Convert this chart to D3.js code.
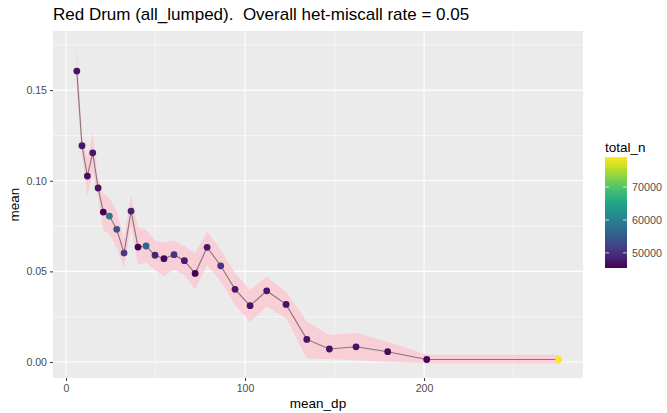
<!DOCTYPE html>
<html>
<head>
<meta charset="utf-8">
<script src="https://cdn.jsdelivr.net/npm/d3@7"></script>
<style>
  body { margin: 0; background: #fff; }
  svg { font-family: "Liberation Sans", Arial, Helvetica, sans-serif; }
</style>
</head>
<body>
<div id="chart"></div>
<script>
// values
var mean_dp = [6.0, 8.9, 11.9, 14.9, 17.9, 20.8, 24.2, 28.3, 32.4, 36.3, 40.2, 44.7, 49.7, 54.7,
               60.3, 66.1, 72.1, 78.8, 86.4, 94.4, 102.8, 112.1, 122.9, 134.5, 147.1, 162.0,
               179.7, 201.5, 275.2];
var mean = [0.1605, 0.1193, 0.1026, 0.1154, 0.0960, 0.0827, 0.0805, 0.0732, 0.0601, 0.0833,
            0.0634, 0.0640, 0.0589, 0.0570, 0.0592, 0.0559, 0.0489, 0.0633, 0.0531, 0.0401,
            0.0311, 0.0393, 0.0318, 0.0125, 0.0072, 0.0084, 0.0057, 0.0014, 0.0014];
var lo = [0.1490, 0.1145, 0.0915, 0.1045, 0.0910, 0.0725, 0.0705, 0.0630, 0.0520, 0.0750,
          0.0535, 0.0550, 0.0507, 0.0475, 0.0510, 0.0480, 0.0400, 0.0535, 0.0445, 0.0315,
          0.0222, 0.0305, 0.0243, 0.0020, 0.0017, 0.0010, 0.0002, -0.0008, -0.0008];
var hi = [0.1735, 0.1240, 0.1130, 0.1265, 0.1010, 0.0925, 0.0905, 0.0835, 0.0680, 0.0920,
          0.0745, 0.0730, 0.0670, 0.0660, 0.0670, 0.0640, 0.0600, 0.0720, 0.0620, 0.0490,
          0.0397, 0.0470, 0.0388, 0.0222, 0.0149, 0.0160, 0.0112, 0.0040, 0.0040];
var total_n = [47000, 47500, 46500, 47500, 47000, 45500, 59000, 54000, 51000, 48500,
               45500, 55500, 49000, 46000, 50500, 48000, 45600, 47500, 50500, 47500,
               47000, 47500, 47000, 47000, 47000, 47000, 46500, 46000, 79000];
var xTicks = [0, 100, 200];
var xMinor = [50, 150, 250];
var yTicks = [0, 0.05, 0.10, 0.15];
var yMinor = [0.025, 0.075, 0.125, 0.175];
var legendTicks = [50000, 60000, 70000];

var width = 667, height = 413;
var margin = {top: 31, right: 84, bottom: 35, left: 53};
var pw = width - margin.left - margin.right,
    ph = height - margin.top - margin.bottom;

var svg = d3.select("#chart").append("svg")
    .attr("width", width).attr("height", height);

var x = d3.scaleLinear().domain([-7.3, 288.8]).range([0, pw]);
var y = d3.scaleLinear().domain([-0.0088, 0.1826]).range([ph, 0]);
var nExtent = [45400, 79100];
var color = d3.scaleSequential(d3.interpolateViridis).domain(nExtent);

var data = mean_dp.map(function(d, i) {
  return {x: d, y: mean[i], lo: lo[i], hi: hi[i], n: total_n[i]};
});

svg.append("text")
    .attr("x", margin.left).attr("y", 20)
    .attr("font-size", 17).attr("fill", "#000")
    .style("white-space", "pre")
    .text("Red Drum (all_lumped).  Overall het-miscall rate = 0.05");

var g = svg.append("g")
    .attr("transform", "translate(" + margin.left + "," + margin.top + ")");

g.append("rect").attr("width", pw).attr("height", ph).attr("fill", "#ebebeb");

// grid
g.selectAll(".ymin").data(yMinor).enter().append("line")
    .attr("x1", 0).attr("x2", pw)
    .attr("y1", function(d) { return y(d); }).attr("y2", function(d) { return y(d); })
    .attr("stroke", "#fff").attr("stroke-width", 0.55);
g.selectAll(".xmin").data(xMinor).enter().append("line")
    .attr("y1", 0).attr("y2", ph)
    .attr("x1", function(d) { return x(d); }).attr("x2", function(d) { return x(d); })
    .attr("stroke", "#fff").attr("stroke-width", 0.55);
g.selectAll(".ymaj").data(yTicks).enter().append("line")
    .attr("x1", 0).attr("x2", pw)
    .attr("y1", function(d) { return y(d); }).attr("y2", function(d) { return y(d); })
    .attr("stroke", "#fff").attr("stroke-width", 1.1);
g.selectAll(".xmaj").data(xTicks).enter().append("line")
    .attr("y1", 0).attr("y2", ph)
    .attr("x1", function(d) { return x(d); }).attr("x2", function(d) { return x(d); })
    .attr("stroke", "#fff").attr("stroke-width", 1.1);

// ribbon
g.append("path")
    .datum(data)
    .attr("fill", "pink").attr("fill-opacity", 0.65)
    .attr("d", d3.area()
      .x(function(d) { return x(d.x); })
      .y0(function(d) { return y(d.lo); })
      .y1(function(d) { return y(d.hi); }));

g.append("path")
    .datum(data)
    .attr("fill", "none").attr("stroke", "#8c717c").attr("stroke-width", 1.1)
    .attr("d", d3.line()
      .x(function(d) { return x(d.x); })
      .y(function(d) { return y(d.y); }));

g.selectAll(".pt").data(data).enter().append("circle")
    .attr("cx", function(d) { return x(d.x); })
    .attr("cy", function(d) { return y(d.y); })
    .attr("r", 3.4)
    .attr("fill", function(d) { return color(d.n); });

// axes
var xAxis = g.append("g")
    .attr("transform", "translate(0," + ph + ")")
    .call(d3.axisBottom(x).tickValues(xTicks).tickSize(3).tickPadding(3).tickFormat(d3.format("d")));
var yAxis = g.append("g")
    .call(d3.axisLeft(y).tickValues(yTicks).tickSize(3).tickPadding(3).tickFormat(d3.format(".2f")));
[xAxis, yAxis].forEach(function(a) {
  a.select(".domain").remove();
  a.selectAll("line").attr("stroke", "#333").attr("stroke-width", 1);
  a.selectAll("text").attr("fill", "#4d4d4d").attr("font-size", 10.6)
    .attr("font-family", "Liberation Sans, Arial, sans-serif");
});

svg.append("text")
    .attr("x", margin.left + pw / 2).attr("y", 408)
    .attr("text-anchor", "middle").attr("font-size", 13.5).attr("fill", "#000")
    .text("mean_dp");
svg.append("text")
    .attr("transform", "translate(19," + (margin.top + ph / 2) + ") rotate(-90)")
    .attr("text-anchor", "middle").attr("font-size", 13.5).attr("fill", "#000")
    .text("mean");

// legend colourbar
var lx = 605, ly = 157, lw = 22, lh = 111;
var ls = d3.scaleLinear().domain(nExtent).range([ly + lh, ly]);
svg.append("text").attr("x", lx).attr("y", 152)
    .attr("font-size", 13.5).attr("fill", "#000").text("total_n");
var defs = svg.append("defs");
var grad = defs.append("linearGradient").attr("id", "vgrad")
    .attr("x1", 0).attr("y1", 1).attr("x2", 0).attr("y2", 0);
d3.range(0, 1.0001, 0.1).forEach(function(t) {
  grad.append("stop").attr("offset", t).attr("stop-color", d3.interpolateViridis(t));
});
svg.append("rect").attr("x", lx).attr("y", ly).attr("width", lw).attr("height", lh)
    .attr("fill", "url(#vgrad)");
legendTicks.forEach(function(t) {
  var ty = ls(t);
  svg.append("line").attr("x1", lx).attr("x2", lx + 4).attr("y1", ty).attr("y2", ty)
      .attr("stroke", "#fff").attr("stroke-opacity", 0.7);
  svg.append("line").attr("x1", lx + lw - 4).attr("x2", lx + lw).attr("y1", ty).attr("y2", ty)
      .attr("stroke", "#fff").attr("stroke-opacity", 0.7);
  svg.append("text").attr("x", lx + lw + 5).attr("y", ty).attr("dy", "0.35em")
      .attr("font-size", 10.8).attr("fill", "#4d4d4d").text(t);
});
</script>
</body>
</html>
